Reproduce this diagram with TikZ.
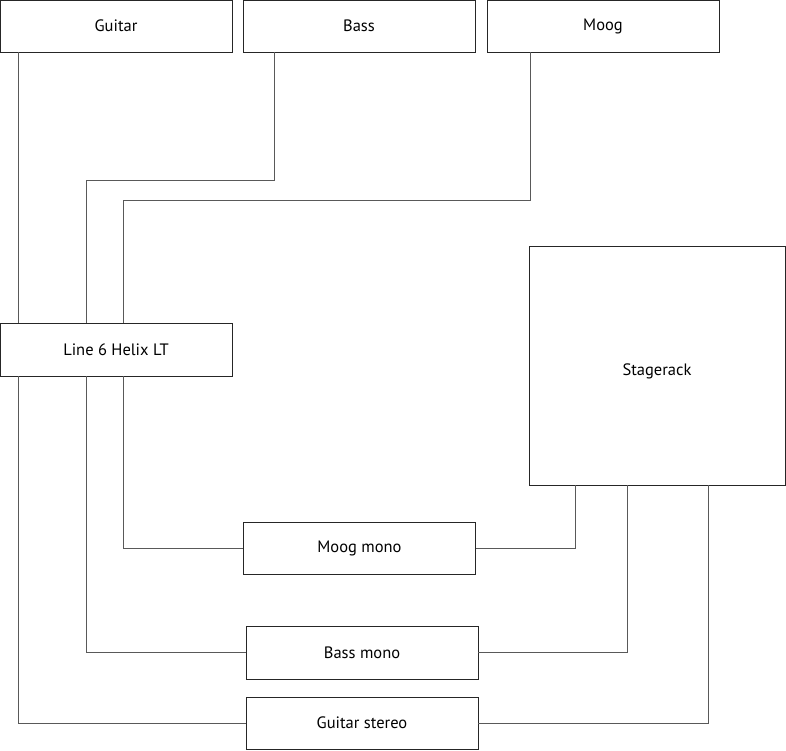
\documentclass[tikz,border=0pt]{standalone}
\usepackage{fontspec}
\setmainfont{PT Sans}
\begin{document}
\begin{tikzpicture}[x=1pt,y=-1pt,
  box/.style={draw=black!85,line width=0.9pt,fill=white,inner sep=0pt,font=\fontsize{16.5}{18}\selectfont},
  wire/.style={draw=black!65,line width=0.9pt}]
\useasboundingbox (0,0) rectangle (786,750);
\node[box,minimum width=232pt,minimum height=52pt] (guitar) at (116,26) {Guitar};
\node[box,minimum width=232pt,minimum height=52pt] (bass) at (359,26) {Bass};
\node[box,minimum width=232pt,minimum height=52pt] (moog) at (603,26) {Moog};
\node[box,minimum width=232pt,minimum height=53pt] (helix) at (116,349.5) {Line 6 Helix LT};
\node[box,minimum width=256pt,minimum height=239pt] (stage) at (657,365.5) {};
\node[font=\fontsize{16.5}{18}\selectfont] (stagetxt) at (657,371) {Stagerack};
\node[box,minimum width=232pt,minimum height=52pt] (moogm) at (359.5,548) {Moog mono};
\node[box,minimum width=232pt,minimum height=53pt] (bassm) at (362,652.5) {Bass mono};
\node[box,minimum width=232pt,minimum height=52pt] (guitars) at (362,723) {Guitar stereo};
% inputs
\draw[wire] (18,0 |- guitar.south) -- (18,0 |- helix.north);
\draw[wire] (274,0 |- bass.south) |- (86,180) -- (86,0 |- helix.north);
\draw[wire] (530,0 |- moog.south) |- (123,200) -- (123,0 |- helix.north);
% outputs
\draw[wire] (123,0 |- helix.south) |- (moogm.west);
\draw[wire] (86,0 |- helix.south) |- (bassm.west);
\draw[wire] (18,0 |- helix.south) |- (guitars.west);
\draw[wire] (moogm.east) -| (575,0 |- stage.south);
\draw[wire] (bassm.east) -| (627,0 |- stage.south);
\draw[wire] (guitars.east) -| (708,0 |- stage.south);
\end{tikzpicture}
\end{document}
